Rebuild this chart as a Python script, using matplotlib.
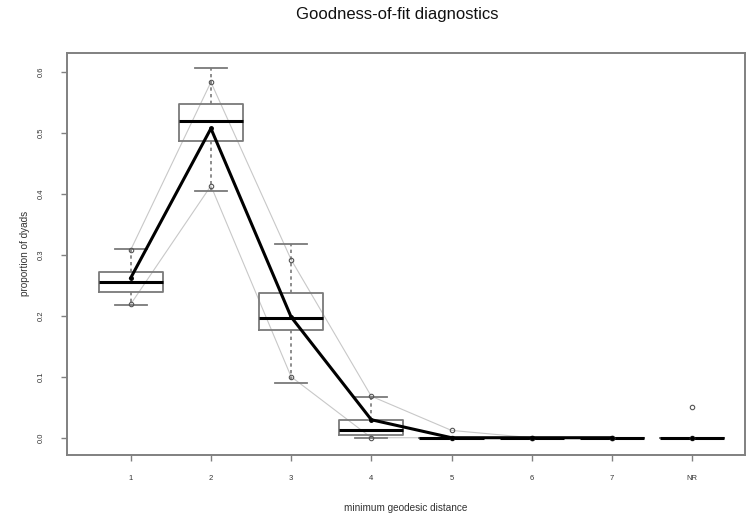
import matplotlib
matplotlib.use("Agg")
import matplotlib.pyplot as plt

plt.rcParams['font.family'] = ['Liberation Sans', 'DejaVu Sans']

# geodesic distance categories
labels = ['1', '2', '3', '4', '5', '6', '7', 'NR']

# simulated distribution (boxplot stats)
q1 = [0.239, 0.486, 0.177, 0.005, 0.0, 0.0, 0.0, 0.0]
med = [0.256, 0.520, 0.196, 0.013, 0.0, 0.0, 0.0, 0.0]
q3 = [0.272, 0.547, 0.237, 0.029, 0.0, 0.0, 0.0, 0.0]
whislo = [0.218, 0.404, 0.089, 0.0, 0.0, 0.0, 0.0, 0.0]
whishi = [0.310, 0.606, 0.318, 0.067, 0.0, 0.0, 0.0, 0.0]

# 95% bounds of the simulations
upper = [0.308, 0.583, 0.292, 0.068, 0.012, 0.0, 0.0, 0.050]
lower = [0.219, 0.413, 0.100, 0.0, 0.0, 0.0, 0.0, 0.0]

# observed network
observed = [0.262, 0.507, 0.198, 0.0295, 0.0, 0.0, 0.0, 0.0]

fig = plt.figure(figsize=(7.48, 5.18), dpi=100)
ax = fig.add_axes([0.089, 0.122, 0.907, 0.776])

pos = list(range(1, len(labels) + 1))
stats = [dict(med=m, q1=a, q3=b, whislo=lo, whishi=hi, fliers=[])
         for m, a, b, lo, hi in zip(med, q1, q3, whislo, whishi)]

edge = '#7a7a7a'
ax.bxp(stats, positions=pos, widths=0.8, showfliers=False,
       boxprops=dict(color=edge, linewidth=1.3),
       whiskerprops=dict(color=edge, linewidth=1.2, linestyle=(0, (2, 2))),
       capprops=dict(color=edge, linewidth=1.3),
       medianprops=dict(color='black', linewidth=2.2),
       capwidths=0.4)

# gray bound lines and thick observed line skip the NR category
ax.plot(pos[:-1], upper[:-1], color='#c8c8c8', lw=0.8, zorder=1)
ax.plot(pos[:-1], lower[:-1], color='#c8c8c8', lw=0.8, zorder=1)
ax.plot(pos, upper, 'o', mfc='none', mec='#555555', ms=3.2, mew=0.8, zorder=4)
ax.plot(pos, lower, 'o', mfc='none', mec='#555555', ms=3.2, mew=0.8, zorder=4)
ax.plot(pos[:-1], observed[:-1], color='black', lw=2.2, zorder=5)
ax.plot(pos, observed, 'o', color='black', ms=2.5, zorder=6)

ax.set_xlim(0.2, 8.66)
ax.set_ylim(-0.028, 0.631)
ax.set_xticks(pos)
ax.set_xticklabels(labels)
ax.set_yticks([0.0, 0.1, 0.2, 0.3, 0.4, 0.5, 0.6])
ax.set_yticklabels(['0.0', '0.1', '0.2', '0.3', '0.4', '0.5', '0.6'],
                   rotation=90, va='center')

for s in ax.spines.values():
    s.set_color('#808080')
    s.set_linewidth(1.4)
ax.tick_params(axis='both', colors='#808080', length=4.5, width=1.0,
               labelsize=5.5, labelcolor='#333333')
ax.tick_params(axis='x', pad=10)
ax.tick_params(axis='y', pad=11)

ax.set_xlabel('minimum geodesic distance', fontsize=7.2, color='#333333',
              labelpad=15)
ax.set_ylabel('proportion of dyads', fontsize=7.2, color='#333333',
              labelpad=6)
fig.text(0.531, 0.972, 'Goodness-of-fit diagnostics', fontsize=12,
         ha='center', va='center', color='#111111')

fig.savefig('out.png', dpi=100)
